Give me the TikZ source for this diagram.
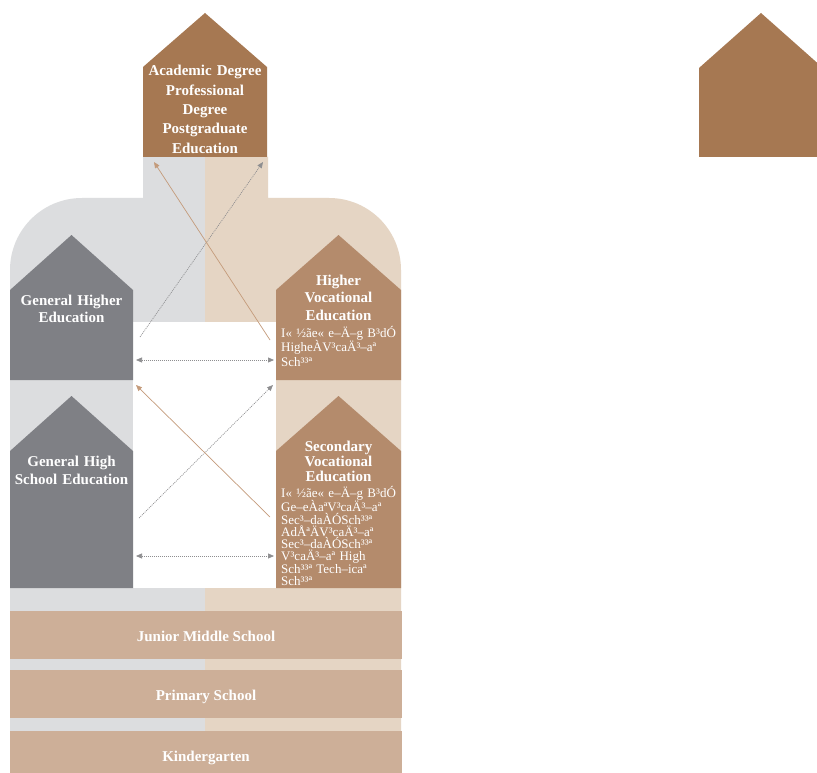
\documentclass[tikz,border=0pt]{standalone}
\usepackage{fontspec}
\setmainfont{Liberation Serif}
\usetikzlibrary{arrows.meta}
\definecolor{bggray}{HTML}{DCDDDF}
\definecolor{bgbeige}{HTML}{E5D5C4}
\definecolor{barcol}{HTML}{CDAF98}
\definecolor{housegray}{HTML}{7F8085}
\definecolor{housebrown}{HTML}{B48B6C}
\definecolor{housedark}{HTML}{A67852}
\definecolor{tanline}{HTML}{C49B7B}
\definecolor{grayline}{HTML}{8E8E90}
\begin{document}
\begin{tikzpicture}[x=1pt,y=-1pt,
  titletext/.style={text=white, font=\bfseries\fontsize{15}{#1}\selectfont, align=center, text width=124pt, inner sep=0pt, anchor=base},
  smalltext/.style={text=white, font=\fontsize{13}{#1}\selectfont, align=left, text width=122pt, inner sep=0pt, anchor=base west},
  bar/.style={fill=barcol, text=white, font=\bfseries\fontsize{15}{17}\selectfont, minimum width=392pt, minimum height=48pt, inner sep=0pt, text height=12pt, text depth=0pt},
  tanarrow/.style={draw=tanline, line width=0.7pt, -{Triangle[length=6pt,width=5pt]}},
  grayarrow/.style={draw=grayline, line width=0.7pt, dash pattern=on 1pt off 1pt, -{Triangle[length=6pt,width=5pt]}},
  dblarrow/.style={draw=grayline, line width=0.7pt, dash pattern=on 1pt off 1pt, {Triangle[length=6pt,width=5pt]}-{Triangle[length=6pt,width=5pt]}}
]
\clip (0,0) rectangle (817,773);
\fill[white] (0,0) rectangle (817,773);
% background halves
\fill[bggray] (205,157) -- (143,157) -- (143,198) -- (82,198)
  .. controls (42.2,198) and (10,230.2) .. (10,270) -- (10,773) -- (205,773) -- cycle;
\fill[bgbeige] (205,157) -- (268,157) -- (268,198) -- (329,198)
  .. controls (368.8,198) and (401,230.2) .. (401,270) -- (401,773) -- (205,773) -- cycle;
\fill[white] (133,322) rectangle (276,588);
% houses
\fill[housedark] (143,157) -- (143,67) -- (205,13) -- (267,67) -- (267,157) -- cycle;
\fill[housegray] (10,380) -- (10,290) -- (71.5,235) -- (133,290) -- (133,380) -- cycle;
\fill[housebrown] (276,380) -- (276,290) -- (338.5,235) -- (401,290) -- (401,380) -- cycle;
\fill[housegray] (10,588) -- (10,451) -- (71.5,396) -- (133,451) -- (133,588) -- cycle;
\fill[housebrown] (276,588) -- (276,451) -- (338.5,396) -- (401,451) -- (401,588) -- cycle;
\fill[housedark] (699,157) -- (699,68) -- (761,13) -- (823,68) -- (823,157) -- cycle;
% titles
\node[titletext=19.3] (academic) at (205,76) {Academic Degree\\Professional\\Degree\\Postgraduate\\Education};
\node[titletext=17.5] (genhigher) at (71.5,305) {General Higher\\Education};
\node[titletext=17.5] (highervoc) at (338.5,285) {Higher\\Vocational\\Education};
\node[titletext=18] (genhigh) at (71.5,466) {General High\\School Education};
\node[titletext=15] (secvoc) at (338.5,451) {Secondary\\Vocational\\Education};
\node[smalltext=14.5] (hvdesc) at (281,337) {I« ½ãe« e–Ä–g B³dÓ\\HigheÀV³caÄ³–aª\\Sch³³ª};
\node[smalltext=12.25] (svdesc) at (281,497) {I« ½ãe« e–Ä–g B³dÓ\\Ge–eÀaªV³caÄ³–aª\\Sec³–daÀÓSch³³ª\\AdÅªÄV³caÄ³–aª\\Sec³–daÀÓSch³³ª\\V³caÄ³–aª High\\Sch³³ª Tech–icaª\\Sch³³ª};
% bars
\node[bar] (junior) at (206,635) {Junior Middle School};
\node[bar] (primary) at (206,694) {Primary School};
\node[bar] (kinder) at (206,755) {Kindergarten};
% connector end points
\coordinate (a1) at (140,337); \coordinate (a2) at (263,162);
\coordinate (b1) at (270,340); \coordinate (b2) at (154,162);
\coordinate (h1l) at (136,360); \coordinate (h1r) at (274,360);
\coordinate (c1) at (139,518); \coordinate (c2) at (273,385);
\coordinate (d1) at (270,517); \coordinate (d2) at (136,385);
\coordinate (h2l) at (136,556); \coordinate (h2r) at (274,556);
\draw[grayarrow] (a1) -- (a2);
\draw[tanarrow] (b1) -- (b2);
\draw[dblarrow] (h1l) -- (h1r);
\draw[grayarrow] (c1) -- (c2);
\draw[tanarrow] (d1) -- (d2);
\draw[dblarrow] (h2l) -- (h2r);
\end{tikzpicture}
\end{document}
